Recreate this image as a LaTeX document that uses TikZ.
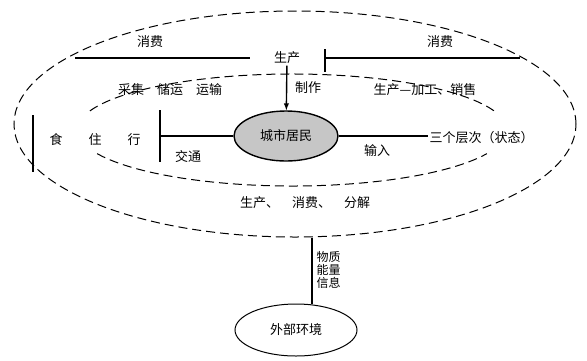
\documentclass[tikz,border=0pt]{standalone}
\usepackage{fontspec}
\setmainfont{Noto Sans CJK SC}
\usetikzlibrary{shapes.geometric}
\begin{document}
\begin{tikzpicture}[x=1pt, y=1pt, line width=1.4pt, >=latex, font=\fontsize{13}{15}\selectfont]

    \tikzset{
        ring/.style={draw, dash pattern=on 9pt off 5pt, line width=1pt},
        word/.style={inner sep=1pt},
    }
    \useasboundingbox (0,0) rectangle (587,-360);

    % 1. Ellissi tratteggiate
    \node[ring, ellipse, minimum width=562, minimum height=226] (outer) at (295,-124) {};
    \draw[ring] (292,-130) ++(160:215 and 56) arc (160:20:215 and 56);
    \draw[ring] (292,-130) ++(205:215 and 56) arc (205:335:215 and 56);

    % 2. Nodo centrale
    \node[ellipse, draw, fill=gray!45, minimum width=104, minimum height=50] (core) at (286,-136) {城市居民};

    % 3. Linee in alto
    \coordinate (tl1) at (75,-58);
    \coordinate (tl2) at (250,-58);
    \coordinate (tr1) at (325,-58);
    \coordinate (tr2) at (520,-58);
    \draw (tl1) -- (tl2);
    \draw (tr1) -- (tr2);
    \draw ([yshift=9]tr1) -- ([yshift=-14]tr1);
    \node[word] (useL) at (150,-42) {消费};
    \node[word] (useR) at (440,-42) {消费};
    \node[word] (make) at (287,-58) {生产};
    \draw[->] (make) -- (core);

    % 4. Testi fra le ellissi
    \node[word] (rowL) at (170,-90) {采集\quad 储运\quad 运输};
    \node[word] (craft) at (308,-88) {制作};
    \node[word] (rowR) at (425,-90) {生产—加工、销售};

    % 5. Ramo sinistro
    \coordinate (barL1) at (33,-115);
    \coordinate (barL2) at (33,-172);
    \draw (barL1) -- (barL2);
    \node[word] (life) at (95,-140) {食\qquad 住\qquad 行};
    \coordinate (barM1) at (160,-110);
    \coordinate (barM2) at (160,-162);
    \draw (barM1) -- (barM2);
    \draw (barM1 |- core.west) -- (core.west);
    \node[word] (traffic) at (188,-157) {交通};

    % 6. Ramo destro
    \node[word, anchor=west] (state) at (428,-138) {三个层次（状态）};
    \draw (core.east) -- (state.west |- core.east);
    \node[word] (input) at (377,-151) {输入};

    % 7. Testo in basso
    \node[word] (rowB) at (305,-203) {生产、\quad 消费、\quad 分解};

    % 8. Ambiente esterno
    \node[ellipse, draw, line width=1pt, minimum width=122, minimum height=52] (ext) at (296,-330) {外部环境};
    \coordinate (link) at (312,-238);
    \draw (link) -- (link |- ext.north);
    \node[word, anchor=west, align=left, font=\fontsize{12}{12}\selectfont] (flow) at (315,-270) {物质\\[1pt]能量\\[1pt]信息};

\end{tikzpicture}
\end{document}
